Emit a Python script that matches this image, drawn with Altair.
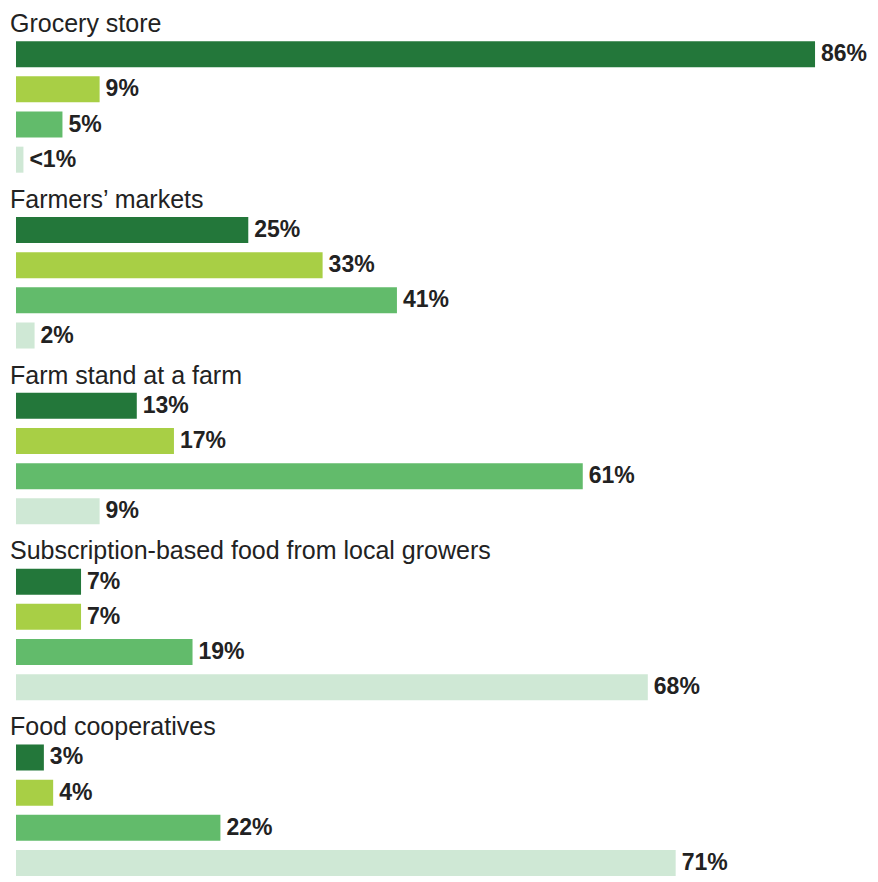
import altair as alt
import pandas as pd

groups = ["Grocery store", "Farmers\u2019 markets", "Farm stand at a farm",
          "Subscription-based food from local growers", "Food cooperatives"]
series = ["s1", "s2", "s3", "s4"]
colors = ["#23773a", "#a8cf45", "#62bb6b", "#cfe8d5"]
values = [
    [86, 9, 5, 0.8],
    [25, 33, 41, 2],
    [13, 17, 61, 9],
    [7, 7, 19, 68],
    [3, 4, 22, 71],
]
labels = [
    ["86%", "9%", "5%", "<1%"],
    ["25%", "33%", "41%", "2%"],
    ["13%", "17%", "61%", "9%"],
    ["7%", "7%", "19%", "68%"],
    ["3%", "4%", "22%", "71%"],
]

rows = []
titles = []
order = []
for gi, g in enumerate(groups):
    key = f"{gi}-t"
    order.append(key)
    titles.append({"row": key, "title": g, "x": 0})
    for si, s in enumerate(series):
        key = f"{gi}-{si}"
        order.append(key)
        rows.append({"row": key, "series": s, "value": values[gi][si],
                     "label": labels[gi][si]})

bars_df = pd.DataFrame(rows)
titles_df = pd.DataFrame(titles)

y = alt.Y("row:N", sort=order, axis=None,
          scale=alt.Scale(domain=order, paddingInner=0.26, paddingOuter=0.0,
                          range=[-2, 868]))
xscale = alt.Scale(domain=[0, 91.7], nice=False, zero=True)

bars = alt.Chart(bars_df).mark_bar().encode(
    x=alt.X("value:Q", scale=xscale, axis=None),
    y=y,
    color=alt.Color("series:N", scale=alt.Scale(domain=series, range=colors), legend=None),
)

vals = alt.Chart(bars_df).mark_text(
    align="left", baseline="middle", dx=6, fontSize=23, fontWeight="bold",
    font="Liberation Sans", color="#222222"
).encode(
    x=alt.X("value:Q", scale=xscale, axis=None),
    y=y,
    text="label:N",
)

ttl = alt.Chart(titles_df).mark_text(
    align="left", baseline="middle", dx=-6, dy=5, fontSize=25,
    font="Liberation Sans", color="#222222"
).encode(
    x=alt.X("x:Q", scale=xscale, axis=None),
    y=y,
    text="title:N",
)

chart = alt.layer(bars, vals, ttl).properties(
    width=852, height=866,
    padding={"left": 2, "right": 0, "top": 0, "bottom": 0},
).configure_view(stroke=None)

chart.save("out.html", embed_options={"renderer": "svg", "actions": False})
